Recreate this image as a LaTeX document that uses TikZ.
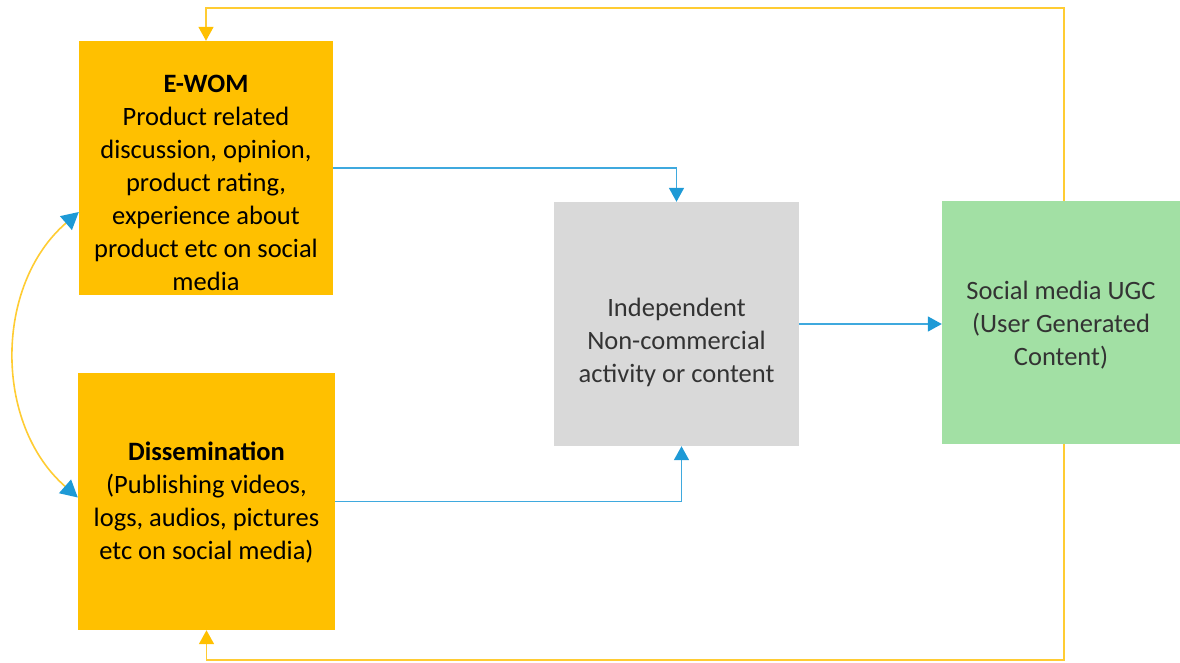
\documentclass[tikz,border=0pt]{standalone}
\usepackage{fontspec}
\setmainfont{Carlito}
\usetikzlibrary{arrows.meta,calc}
\definecolor{orng}{HTML}{FFC000}
\definecolor{greybox}{HTML}{D9D9D9}
\definecolor{greenbox}{HTML}{A2E0A4}
\definecolor{arrblue}{HTML}{1E9AD6}
\definecolor{linblue}{HTML}{3FA9DE}
\definecolor{linyel}{HTML}{FFCC33}
\definecolor{txtdark}{HTML}{333333}
\begin{document}
\begin{tikzpicture}[x=1pt,y=-1pt,
  box/.style={draw=none,inner sep=0pt,minimum width=#1},
  obox/.style={box=254pt,fill=orng,minimum height=254pt},
  txt/.style={align=center,inner sep=0pt,font=\fontsize{26.5}{33}\selectfont},
  barrow/.style={draw=linblue,line width=1.6pt,-{Triangle[length=14pt,width=15pt,color=arrblue]}},
  yarrow/.style={draw=linyel,line width=1.6pt,-{Triangle[length=14pt,width=15pt,color=orng]}},
  carrow/.style={draw=linyel,line width=1.6pt,{Triangle[length=17pt,width=18pt,color=arrblue]}-{Triangle[length=17pt,width=18pt,color=arrblue]}}
]
\useasboundingbox (0,0) rectangle (1180,662);
\node[obox] (ewom) at (206,168) {};
\node[obox,minimum width=257pt,minimum height=257pt] (dis) at (206.5,501.5) {};
\node[box=245pt,minimum height=244pt,fill=greybox] (grey) at (676.5,324) {};
\node[box=238pt,minimum height=243pt,fill=greenbox] (green) at (1061,322.5) {};
\node[txt,text=black] (ewomtxt) at (206,183) {\textbf{E-WOM}\\Product related\\discussion, opinion,\\product rating,\\experience about\\product etc on social\\media};
\node[txt,text=black] (distxt) at (206.5,503) {\textbf{Dissemination}\\(Publishing videos,\\logs, audios, pictures\\etc on social media)};
\node[txt,text=txtdark] (greytxt) at (676.5,342) {Independent\\Non-commercial\\activity or content};
\node[txt,text=txtdark] (greentxt) at (1061,325) {Social media UGC\\(User Generated\\Content)};
\coordinate (ytop) at (0,8);
\coordinate (ybot) at (0,660);
\draw[barrow] (ewom.east) -| (grey.north);
\draw[barrow] (dis.east) -| ([xshift=5pt]grey.south);
\draw[barrow] (grey.east) -- (grey.east -| green.west);
\draw[yarrow] ([xshift=3pt]green.north) |- (ewom.north |- ytop) -- (ewom.north);
\draw[yarrow] ([xshift=3pt]green.south) |- (dis.south |- ybot) -- (dis.south);
\draw[carrow] ([yshift=-44pt]ewom.west) to[bend right=49] ([yshift=4pt]dis.west);
\end{tikzpicture}
\end{document}
